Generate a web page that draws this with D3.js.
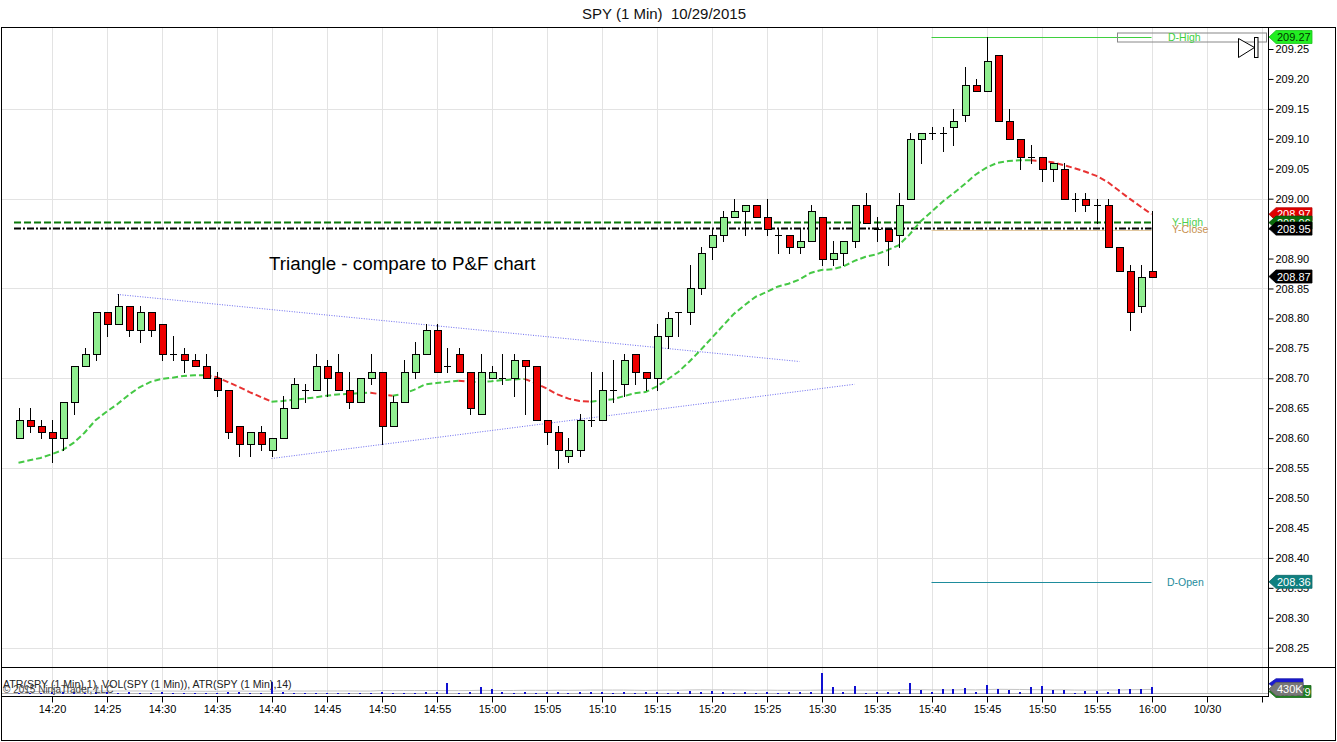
<!DOCTYPE html>
<html><head><meta charset="utf-8">
<script src="https://cdn.jsdelivr.net/npm/d3@7"></script>
<style>
html,body{margin:0;padding:0;background:#fff;}
svg{display:block;font-family:"Liberation Sans",Arial,sans-serif;}
</style></head><body>
<svg id="c" width="1337" height="742"></svg>
<script>
// ---------------- DATA ----------------
const times = ["14:17","14:18","14:19","14:20","14:21","14:22","14:23","14:24","14:25","14:26",
"14:27","14:28","14:29","14:30","14:31","14:32","14:33","14:34","14:35","14:36",
"14:37","14:38","14:39","14:40","14:41","14:42","14:43","14:44","14:45","14:46",
"14:47","14:48","14:49","14:50","14:51","14:52","14:53","14:54","14:55","14:56",
"14:57","14:58","14:59","15:00","15:01","15:02","15:03","15:04","15:05","15:06",
"15:07","15:08","15:09","15:10","15:11","15:12","15:13","15:14","15:15","15:16",
"15:17","15:18","15:19","15:20","15:21","15:22","15:23","15:24","15:25","15:26",
"15:27","15:28","15:29","15:30","15:31","15:32","15:33","15:34","15:35","15:36",
"15:37","15:38","15:39","15:40","15:41","15:42","15:43","15:44","15:45","15:46",
"15:47","15:48","15:49","15:50","15:51","15:52","15:53","15:54","15:55","15:56",
"15:57","15:58","15:59","16:00"];

const opens = [208.60,208.63,208.62,208.61,208.60,208.66,208.72,208.74,208.81,208.79,
208.82,208.78,208.81,208.79,208.74,208.74,208.73,208.72,208.70,208.68,
208.62,208.59,208.61,208.58,208.60,208.65,208.68,208.68,208.72,208.71,
208.68,208.66,208.70,208.71,208.62,208.66,208.71,208.74,208.78,208.72,
208.74,208.71,208.64,208.70,208.70,208.70,208.73,208.72,208.63,208.61,
208.57,208.58,208.63,208.63,208.68,208.69,208.74,208.71,208.70,208.77,
208.81,208.81,208.85,208.92,208.94,208.97,208.98,208.99,208.97,208.94,
208.94,208.92,208.93,208.97,208.90,208.91,208.93,208.99,208.95,208.95,
208.94,209.00,209.10,209.11,209.11,209.12,209.14,209.19,209.18,209.24,
209.13,209.10,209.07,209.07,209.05,209.05,209.00,209.00,208.99,208.99,
208.92,208.88,208.82,208.88];

const highs = [208.65,208.65,208.63,208.63,208.66,208.72,208.75,208.81,208.81,208.84,
208.82,208.82,208.81,208.79,208.77,208.75,208.74,208.74,208.71,208.68,
208.62,208.61,208.62,208.60,208.67,208.70,208.69,208.74,208.73,208.74,
208.71,208.70,208.74,208.71,208.67,208.73,208.76,208.79,208.79,208.75,
208.75,208.71,208.74,208.72,208.74,208.74,208.73,208.72,208.63,208.62,
208.60,208.64,208.71,208.71,208.73,208.74,208.74,208.71,208.79,208.81,
208.81,208.89,208.92,208.95,208.98,209.00,208.99,208.99,209.00,208.95,
208.94,208.95,208.99,208.97,208.93,208.93,208.99,209.01,208.97,208.95,
209.01,209.11,209.11,209.12,209.12,209.15,209.22,209.20,209.27,209.24,
209.15,209.10,209.09,209.07,209.06,209.06,209.01,209.01,209.00,209.00,
208.92,208.89,208.89,208.98];

const lows = [208.60,208.61,208.60,208.56,208.58,208.64,208.72,208.73,208.77,208.79,
208.77,208.76,208.77,208.73,208.73,208.71,208.72,208.70,208.67,208.60,
208.57,208.57,208.58,208.57,208.60,208.65,208.66,208.68,208.67,208.68,
208.65,208.66,208.69,208.59,208.62,208.66,208.70,208.74,208.71,208.71,
208.71,208.64,208.64,208.70,208.69,208.67,208.64,208.63,208.59,208.55,
208.56,208.57,208.62,208.63,208.66,208.67,208.69,208.68,208.68,208.75,
208.77,208.79,208.84,208.90,208.93,208.97,208.94,208.97,208.94,208.91,
208.91,208.91,208.93,208.89,208.89,208.89,208.92,208.96,208.93,208.89,
208.92,209.00,209.06,209.10,209.08,209.09,209.13,209.18,209.18,209.13,
209.10,209.05,209.06,209.03,209.03,209.00,208.98,208.98,208.96,208.92,
208.88,208.78,208.81,208.87];

const closes = [208.63,208.62,208.61,208.60,208.66,208.72,208.74,208.81,208.79,208.82,
208.78,208.81,208.78,208.74,208.74,208.73,208.72,208.70,208.68,208.61,
208.59,208.61,208.59,208.60,208.65,208.69,208.68,208.72,208.70,208.68,
208.66,208.70,208.71,208.62,208.66,208.71,208.74,208.78,208.71,208.72,
208.71,208.65,208.71,208.71,208.70,208.73,208.72,208.63,208.61,208.58,
208.58,208.63,208.63,208.68,208.68,208.73,208.71,208.70,208.77,208.80,
208.81,208.85,208.91,208.94,208.97,208.98,208.99,208.97,208.95,208.94,
208.92,208.93,208.98,208.90,208.91,208.93,208.99,208.96,208.95,208.93,
208.99,209.10,209.11,209.11,209.11,209.13,209.19,209.18,209.23,209.13,
209.10,209.07,209.07,209.05,209.06,209.00,209.00,208.99,208.99,208.92,
208.88,208.81,208.87,208.87];

const maValues = [208.559,208.563,208.567,208.573,208.580,208.592,208.609,208.630,208.644,208.657,
208.672,208.685,208.694,208.699,208.701,208.704,208.705,208.705,208.702,208.694,
208.686,208.677,208.669,208.661,208.662,208.664,208.666,208.668,208.671,208.673,
208.674,208.675,208.676,208.673,208.671,208.674,208.681,208.690,208.692,208.694,
208.696,208.694,208.694,208.695,208.697,208.698,208.699,208.692,208.683,208.673,
208.666,208.662,208.661,208.663,208.665,208.670,208.675,208.677,208.686,208.698,
208.711,208.728,208.747,208.767,208.787,208.807,208.822,208.836,208.844,208.853,
208.858,208.865,208.876,208.881,208.882,208.887,208.896,208.903,208.907,208.914,
208.922,208.940,208.962,208.978,208.995,209.009,209.024,209.040,209.052,209.060,
209.063,209.064,209.064,209.063,209.061,209.056,209.051,209.045,209.038,209.028,
209.014,209.000,208.987,208.974];

const volumesK = [80,70,60,90,110,100,70,120,90,80,
90,70,60,90,60,70,60,70,80,130,
90,70,60,700,90,70,60,80,70,60,
80,70,60,110,70,80,70,90,100,680,
80,100,400,320,90,70,110,80,90,110,
80,100,90,110,80,100,70,90,110,80,
100,200,90,160,90,80,100,70,90,80,
100,90,110,1230,400,100,490,60,100,100,
100,670,240,100,310,310,370,140,550,310,
240,100,400,460,240,240,60,180,200,120,
310,310,280,430];

const atr14 = [0.030,0.030,0.029,0.031,0.032,0.034,0.033,0.036,0.035,0.036,
0.036,0.036,0.035,0.036,0.035,0.034,0.033,0.032,0.032,0.035,
0.035,0.034,0.034,0.034,0.036,0.036,0.035,0.036,0.036,0.036,
0.036,0.035,0.035,0.041,0.040,0.041,0.041,0.041,0.042,0.040,
0.040,0.041,0.044,0.041,0.041,0.042,0.044,0.044,0.043,0.045,
0.044,0.045,0.047,0.047,0.047,0.047,0.045,0.043,0.045,0.046,
0.045,0.048,0.050,0.049,0.049,0.048,0.047,0.045,0.046,0.044,
0.044,0.044,0.045,0.047,0.046,0.045,0.046,0.046,0.045,0.046,
0.047,0.052,0.051,0.049,0.048,0.048,0.051,0.049,0.052,0.056,
0.055,0.054,0.052,0.051,0.049,0.050,0.047,0.046,0.046,0.048,
0.047,0.051,0.052,0.055];

const priceTicks = [208.25,208.30,208.35,208.40,208.45,208.50,208.55,208.60,208.65,208.70,
208.75,208.80,208.85,208.90,208.95,209.00,209.05,209.10,209.15,209.20,209.25];
const gridPrices = [208.25,208.40,208.55,208.70,208.85,209.00,209.15];
const timeTickValues = ["14:20","14:25","14:30","14:35","14:40","14:45","14:50","14:55","15:00","15:05",
"15:10","15:15","15:20","15:25","15:30","15:35","15:40","15:45","15:50","15:55","16:00","16:05","16:10"];
const timeTickLabels = ["14:20","14:25","14:30","14:35","14:40","14:45","14:50","14:55","15:00","15:05",
"15:10","15:15","15:20","15:25","15:30","15:35","15:40","15:45","15:50","15:55","16:00","10/30",""];

const triangleUpper = [{t:"14:26",p:208.840},{t:"15:28",p:208.728}];
const triangleLower = [{t:"14:40",p:208.566},{t:"15:33",p:208.690}];

const dHigh = 209.27, dOpen = 208.36, yHigh = 208.96, yClose = 208.95;
const sessionStart = "15:40";
const lastVolLabel = "430K", atrLabel = "0.0079";

// ---------------- SETUP ----------------
const parse = t => { const [h,m] = t.split(":").map(Number); return new Date(2015,9,29,h,m); };
const svg = d3.select("#c");
const L = 1, R = 1268, T = 27, PB = 667, VB = 697, B = 740, RR = 1336;

const x = d3.scaleTime().domain([parse("14:20"), parse("16:00")]).range([51.5, 1151.5]);
const y = d3.scaleLinear().domain([208.25, 209.25]).range([647.7, 49]);
const yv = d3.scaleLinear().domain([0, 1250]).range([694, 673]);
const ya = d3.scaleLinear().domain([0, 0.25]).range([694, 673]);
const px = v => Math.round(v) + 0.5;

const GREEN_UP = "#90ee90", RED_DN = "#ee0000";

// title
svg.append("text").attr("x", 664).attr("y", 19).attr("text-anchor","middle")
  .attr("font-size", 15).style("white-space","pre").attr("fill","#111")
  .text("SPY (1 Min)  10/29/2015");

// grid
const grid = svg.append("g").attr("stroke","#e3e3e3").attr("stroke-width",1);
timeTickValues.forEach(t => {
  const xx = px(x(parse(t)));
  grid.append("line").attr("x1",xx).attr("x2",xx).attr("y1",T+1).attr("y2",PB);
  grid.append("line").attr("x1",xx).attr("x2",xx).attr("y1",PB+1).attr("y2",694);
});
gridPrices.forEach(p => {
  const yy = px(y(p));
  grid.append("line").attr("x1",L+1).attr("x2",R).attr("y1",yy).attr("y2",yy);
});

// clip for price panel
svg.append("defs").append("clipPath").attr("id","pc")
  .append("rect").attr("x",L+1).attr("y",T+1).attr("width",R-L-1).attr("height",PB-T-1);
const pg = svg.append("g").attr("clip-path","url(#pc)");

const xFirst = x(parse(times[0])), xLast = x(parse(times[times.length-1]));
const xSess = x(parse(sessionStart));

// triangle lines
[triangleUpper, triangleLower].forEach(seg => {
  pg.append("line")
    .attr("x1", x(parse(seg[0].t))).attr("y1", y(seg[0].p))
    .attr("x2", x(parse(seg[1].t))).attr("y2", y(seg[1].p))
    .attr("stroke","#6b6bf0").attr("stroke-width",1).attr("stroke-dasharray","1,1.5");
});

// Y-Close session tan line
pg.append("line").attr("x1",xSess).attr("x2",xLast).attr("y1",px(y(yClose))+1).attr("y2",px(y(yClose))+1)
  .attr("stroke","#e2c8a0").attr("stroke-width",1);
// Y-High dashed
pg.append("line").attr("x1",xFirst-4.5).attr("x2",xLast).attr("y1",y(yHigh)).attr("y2",y(yHigh))
  .attr("stroke","#0a7a0a").attr("stroke-width",2).attr("stroke-dasharray","7,3");
// Y-Close dash-dot
pg.append("line").attr("x1",xFirst-4.5).attr("x2",xLast).attr("y1",y(yClose)).attr("y2",y(yClose))
  .attr("stroke","#000").attr("stroke-width",2).attr("stroke-dasharray","7,2,2,2");
// D-High
pg.append("line").attr("x1",xSess).attr("x2",xLast).attr("y1",px(y(dHigh))).attr("y2",px(y(dHigh)))
  .attr("stroke","#3fcf3f").attr("stroke-width",1);
// D-Open
pg.append("line").attr("x1",xSess).attr("x2",xLast).attr("y1",px(y(dOpen))).attr("y2",px(y(dOpen)))
  .attr("stroke","#1e8c9c").attr("stroke-width",1);

// D-High box + label
pg.append("rect").attr("x",1117.5).attr("y",px(y(dHigh))-4.5).attr("width",149).attr("height",9)
  .attr("fill","none").attr("stroke","#888").attr("stroke-width",1);
pg.append("text").attr("x",1168).attr("y",y(dHigh)+4).attr("font-size",10.5).attr("fill","#3fcf3f").text("D-High");
pg.append("text").attr("x",1167).attr("y",y(dOpen)+4).attr("font-size",10.5).attr("fill","#1e8c9c").text("D-Open");
pg.append("text").attr("x",1172).attr("y",y(yHigh)+3.5).attr("font-size",10.5).attr("fill","#4fcf4f").text("Y-High");
pg.append("text").attr("x",1172).attr("y",y(yClose)+4).attr("font-size",10.5).attr("fill","#c89050").text("Y-Close");

// moving average (colored by slope)
const maPts = maValues.map((v,i) => [x(parse(times[i])), y(v)]);
const segs = [];
for (let i = 1; i < maPts.length; i++) {
  const col = maValues[i] >= maValues[i-1] ? "#45c845" : "#e83232";
  if (segs.length && segs[segs.length-1].col === col) segs[segs.length-1].pts.push(maPts[i]);
  else segs.push({col, pts:[maPts[i-1], maPts[i]]});
}
const lineGen = d3.line();
segs.forEach(s => pg.append("path").attr("d", lineGen(s.pts)).attr("fill","none")
  .attr("stroke", s.col).attr("stroke-width",2).attr("stroke-dasharray","6,3"));

// candles
const cg = pg.append("g");
times.forEach((t,i) => {
  const cx = Math.round(x(parse(t)));
  const o = opens[i], h = highs[i], l = lows[i], c = closes[i];
  cg.append("line").attr("x1",cx+0.5).attr("x2",cx+0.5)
    .attr("y1",Math.round(y(h))).attr("y2",Math.round(y(l))+1).attr("stroke","#000").attr("stroke-width",1);
  if (o === c) {
    cg.append("line").attr("x1",cx-3).attr("x2",cx+4).attr("y1",px(y(o))).attr("y2",px(y(o)))
      .attr("stroke","#000").attr("stroke-width",1);
  } else {
    const top = Math.round(y(Math.max(o,c))), bot = Math.round(y(Math.min(o,c)));
    cg.append("rect").attr("x",cx-3+0.5).attr("y",top+0.5).attr("width",7).attr("height",Math.max(1,bot-top))
      .attr("fill", c > o ? GREEN_UP : RED_DN).attr("stroke","#000").attr("stroke-width",1);
  }
});

// annotation text
svg.append("text").attr("x",269).attr("y",270).attr("font-size",18.8).attr("fill","#000")
  .text("Triangle - compare to P&F chart");

// play/end icon
svg.append("path").attr("d","M1238.5,38.5 L1254.5,47.5 L1238.5,57.5 Z").attr("fill","#fff").attr("stroke","#000");
svg.append("rect").attr("x",1254.5).attr("y",37.5).attr("width",3.5).attr("height",20).attr("fill","#fff").attr("stroke","#000");

// ---------------- VOLUME PANEL ----------------
const vg = svg.append("g");
vg.append("line").attr("x1",L).attr("x2",R).attr("y1",693.5).attr("y2",693.5).attr("stroke","#b4b4b4");
vg.append("path").attr("d", d3.line()(atr14.map((v,i)=>[x(parse(times[i])), ya(v)])))
  .attr("fill","none").attr("stroke","#c4c4c4").attr("stroke-width",1);
times.forEach((t,i) => {
  const cx = Math.round(x(parse(t)));
  const top = Math.round(yv(volumesK[i]));
  vg.append("rect").attr("x",cx-1).attr("y",top).attr("width",2).attr("height",Math.max(1,694-top)).attr("fill","#1010d0");
});
vg.append("text").attr("x",3).attr("y",688).attr("font-size",10.6).attr("fill","#222")
  .text("ATR(SPY (1 Min),1), VOL(SPY (1 Min)), ATR(SPY (1 Min),14)");
vg.append("text").attr("x",3).attr("y",692.5).attr("font-size",10).attr("fill","#444")
  .text("© 2015 NinjaTrader, LLC");

// ---------------- FRAME ----------------
const fr = svg.append("g").attr("stroke","#000").attr("fill","none").attr("stroke-width",1);
fr.append("rect").attr("x",L+0.5).attr("y",T+0.5).attr("width",RR-L-1).attr("height",B-T);
fr.append("line").attr("x1",L).attr("x2",RR).attr("y1",PB+0.5).attr("y2",PB+0.5);
fr.append("line").attr("x1",L).attr("x2",R).attr("y1",VB-0.5).attr("y2",VB-0.5);
fr.append("line").attr("x1",R+0.5).attr("x2",R+0.5).attr("y1",T).attr("y2",VB);

// ---------------- AXES ----------------
const yAxis = d3.axisRight(y).tickValues(priceTicks).tickSize(5).tickPadding(2).tickFormat(d3.format(".2f"));
const yg = svg.append("g").attr("transform",`translate(${R+0.5},0)`).call(yAxis);
yg.select(".domain").remove();
yg.selectAll("text").attr("font-size",11).attr("font-family","'Liberation Sans',Arial,sans-serif").attr("fill","#000");
yg.selectAll("line").attr("stroke","#000");
yg.selectAll(".tick").filter(d => y(d) > PB || y(d) < T).remove();

const xAxis = d3.axisBottom(x).tickValues(timeTickValues.map(parse)).tickSize(6).tickPadding(3)
  .tickFormat((d,i) => timeTickLabels[i]);
const xg = svg.append("g").attr("transform",`translate(0.5,${VB-0.5})`).call(xAxis);
xg.select(".domain").remove();
xg.selectAll("text").attr("font-size",11).attr("font-family","'Liberation Sans',Arial,sans-serif").attr("fill","#000");
xg.selectAll("line").attr("stroke","#000");

// ---------------- PRICE TAGS ----------------
function tag(yc, fill, label, textFill, right, h) {
  right = right || 1312; h = h || 13;
  const g = svg.append("g");
  g.append("path").attr("d",`M${R+1},${yc} L${R+8},${yc-h/2} L${right},${yc-h/2} L${right},${yc+h/2} L${R+8},${yc+h/2} Z`)
    .attr("fill",fill).attr("stroke", d3.color(fill).darker(0.6)).attr("stroke-width",0.8);
  g.append("text").attr("x",R+9).attr("y",yc+4).attr("font-size",11).attr("fill",textFill).text(label);
}
tag(y(dHigh), "#22ee22", d3.format(".2f")(dHigh), "#003300");
tag(y(maValues[maValues.length-1]), "#e00000", d3.format(".2f")(maValues[maValues.length-1]), "#fff");
tag(y(yHigh), "#0a6a0a", d3.format(".2f")(yHigh), "#fff");
tag(y(yClose), "#000000", d3.format(".2f")(yClose), "#fff");
tag(y(closes[closes.length-1]), "#000000", d3.format(".2f")(closes[closes.length-1]), "#fff");
tag(y(dOpen), "#0f8080", d3.format(".2f")(dOpen), "#fff");

// volume panel tags
tag(691.5, "#1f7f1f", atrLabel, "#fff", 1311, 12);
tag(yv(volumesK[volumesK.length-1]) - 3, "#1a1ad0", "", "#fff", 1303, 10);
tag(689, "#777777", lastVolLabel, "#fff", 1303, 13);
</script>
</body></html>
